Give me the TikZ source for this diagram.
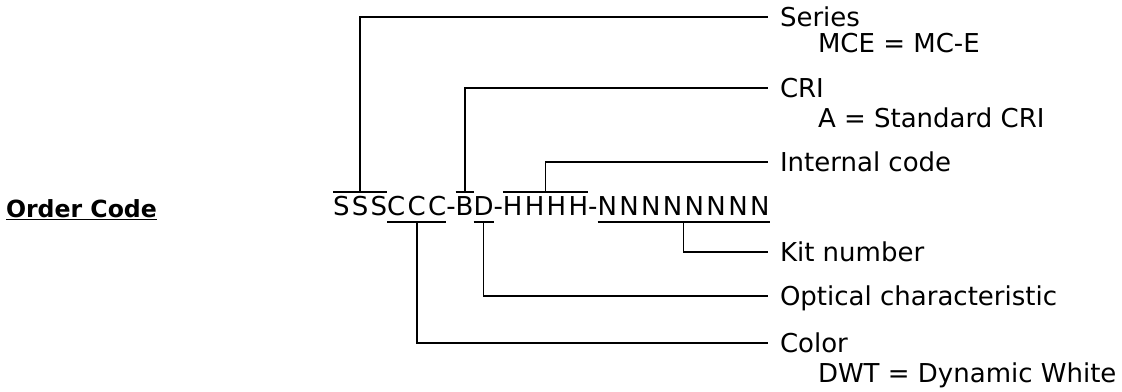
\documentclass[tikz,border=0pt]{standalone}
\usepackage{fontspec}
\setmainfont{DejaVu Sans}
\newfontfamily\codefont[LetterSpace=9]{DejaVu Sans}
\begin{document}
\begin{tikzpicture}[x=1pt,y=-1pt,
  every node/.style={inner sep=0pt, outer sep=0pt, font=\fontsize{26}{31}\selectfont},
  seg/.style={anchor=base west, font=\codefont\fontsize{26}{31}\selectfont},
  lbl/.style={anchor=west, text height=18.5pt, text depth=0pt},
  sub/.style={anchor=base west},
  lead/.style={line width=1.8pt},
]
\useasboundingbox (0,0) rectangle (1122,391);

% heading
\node[anchor=base west, font=\bfseries\fontsize{23.6}{28}\selectfont] (oc) at (6,217) {\underline{Order Code}};

% the order code, one node per field
\node[seg] (s)  at (333,215) {SSS};
\node[seg] (c)  at (s.base east)  {CCC};
\node[seg] (m1) at (c.base east)  {-};
\node[seg] (b)  at (m1.base east) {B};
\node[seg] (d)  at (b.base east)  {D};
\node[seg] (m2) at (d.base east)  {-};
\node[seg] (hh) at (m2.base east) {HHHH};
\node[seg] (m3) at (hh.base east) {-};
\node[seg] (n)  at (m3.base east) {NNNNNNNN};

% levels of the bars above and below the code
\coordinate (top) at (0,192);
\coordinate (bot) at (0,222);

% field descriptions
\node[lbl] (ser) at (780,17)  {Series};
\node[sub] (mce) at (818,52)  {MCE = MC-E};
\node[lbl] (cri) at (780,88)  {CRI};
\node[sub] (std) at (818,127) {A = Standard CRI};
\node[lbl] (int) at (780,162) {Internal code};
\node[lbl] (kit) at (780,252) {Kit number};
\node[lbl] (opt) at (780,296) {Optical characteristic};
\node[lbl] (col) at (780,343) {Color};
\node[sub] (dwt) at (818,382) {DWT = Dynamic White};

% bars over / under the fields
\draw[lead] (s.west |- top)  -- (s.east |- top);
\draw[lead] (b.west |- top)  -- (b.east |- top);
\draw[lead] (hh.west |- top) -- (hh.east |- top);
\draw[lead] (c.west |- bot)  -- (c.east |- bot);
\draw[lead] (d.west |- bot)  -- (d.east |- bot);
\draw[lead] (n.west |- bot)  -- (n.east |- bot);

% leaders from the bars to the descriptions
\draw[lead] (s.north |- top)  |- ([xshift=-12pt]ser.west);
\draw[lead] (b.north |- top)  |- ([xshift=-12pt]cri.west);
\draw[lead] (hh.north |- top) |- ([xshift=-12pt]int.west);
\draw[lead] (n.south |- bot)  |- ([xshift=-12pt]kit.west);
\draw[lead] (d.south |- bot)  |- ([xshift=-12pt]opt.west);
\draw[lead] (c.south |- bot)  |- ([xshift=-12pt]col.west);
\end{tikzpicture}
\end{document}
